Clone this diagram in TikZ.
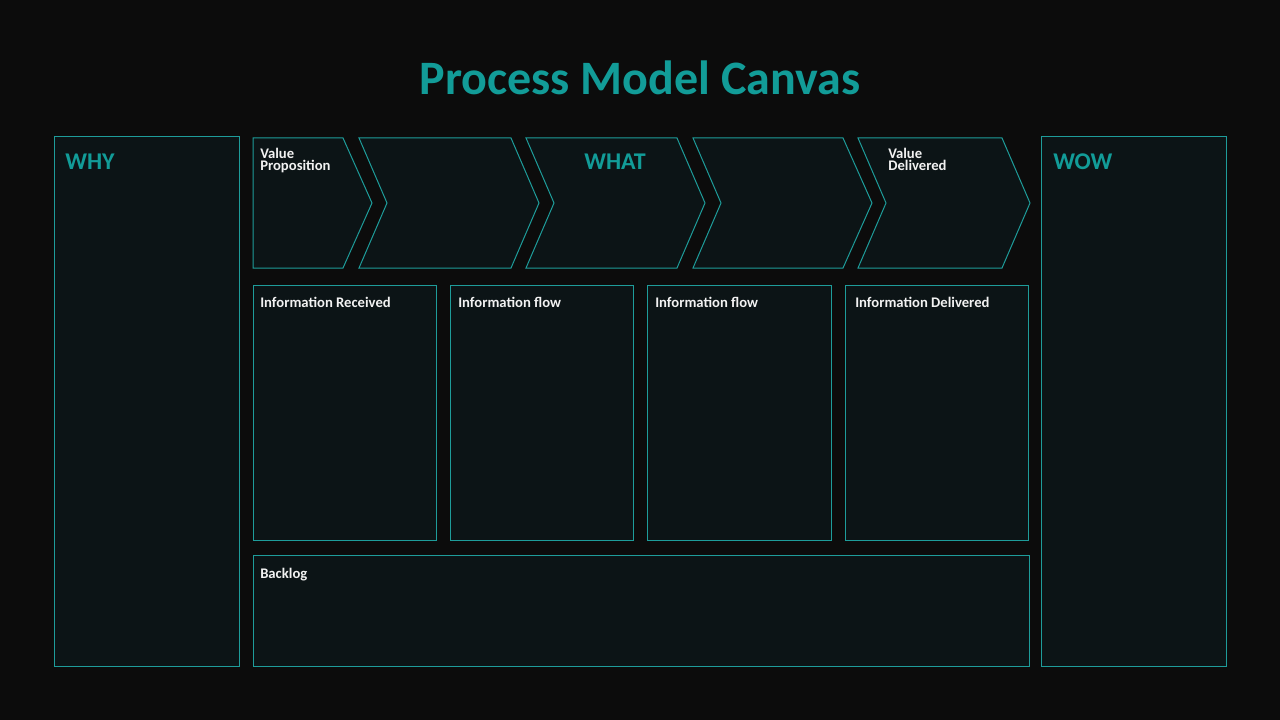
\documentclass[tikz,border=0pt]{standalone}
\usepackage{fontspec}
\setmainfont{Carlito}
\definecolor{canvasbg}{HTML}{0C0C0C}
\definecolor{panelbg}{HTML}{0C1416}
\definecolor{tealline}{HTML}{1E9C9A}
\definecolor{tealtext}{HTML}{129C98}
\definecolor{offwhite}{HTML}{F2F2F2}
\tikzset{
  panel/.style={draw=tealline, fill=panelbg, line width=0.75pt},
  head/.style={text=tealtext, font=\fontsize{18}{20}\selectfont\bfseries, inner sep=0pt},
  tag/.style={text=offwhite, font=\fontsize{11}{9.6}\selectfont\bfseries, inner sep=0pt, align=left, anchor=base west}
}

\begin{document}
\begin{tikzpicture}[x=0.75pt, y=-0.75pt]
\fill[canvasbg] (0,0) rectangle (1280,720);
\useasboundingbox (0,0) rectangle (1280,720);
% title
\node[text=tealtext, font=\fontsize{36}{40}\selectfont\bfseries, inner sep=0pt, anchor=base] (title) at (640,95) {Process Model Canvas};
% side columns
\draw[panel] (54,137) rectangle (239,666);
\draw[panel] (1041,137) rectangle (1226,666);
\node[head, anchor=base west] (why) at (65,170) {WHY};
\node[head, anchor=base west] (wow) at (1053,170) {WOW};
% process chevrons
\draw[panel] (253,138) -- (343,138) -- (372,203) -- (343,268) -- (253,268) -- cycle;
\foreach \a/\b/\c in {359/511/539, 526/677/705, 693/843/872, 858/1002/1030}
  \draw[panel] (\a,138) -- (\b,138) -- (\c,203) -- (\b,268) -- (\a,268) -- (\a+28,203) -- cycle;
\node[head, anchor=base] (what) at (615,170) {WHAT};
\node[tag] (valueprop) at (260,171) {Value\\Proposition};
\node[tag] (valuedel) at (888,171) {Value\\Delivered};
% information row
\foreach \x/\w/\t/\name/\txt in {253/183/260/inforec/Information Received, 450/183/458/flowa/Information flow, 647/184/655/flowb/Information flow, 845/183/855/infodel/Information Delivered} {
  \draw[panel] (\x,285) rectangle (\x+\w,540);
  \node[tag] (\name) at (\t,307) {\txt};
}
% backlog
\draw[panel] (253,555) rectangle (1029,666);
\node[tag] (backlog) at (260,578) {Backlog};
\end{tikzpicture}
\end{document}
